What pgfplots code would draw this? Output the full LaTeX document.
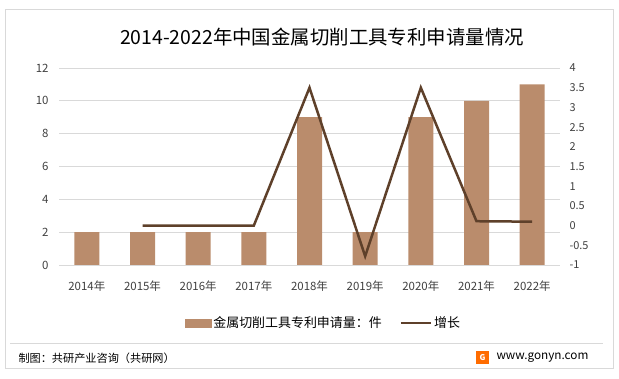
\documentclass[border=0pt]{standalone}
\usepackage{fontspec}
\setmainfont{Noto Sans CJK SC}
\usepackage{pgfplots}
\pgfplotsset{compat=1.18}
\definecolor{barc}{RGB}{186,140,108}
\definecolor{linec}{RGB}{94,64,42}
\definecolor{gridc}{RGB}{217,217,217}
\definecolor{txt}{RGB}{64,64,64}
\begin{document}
\begin{tikzpicture}
\path[use as bounding box] (0bp,0bp) rectangle (619bp,379bp);
\draw[gridc, line width=1bp] (5bp,10bp) rectangle (613bp,369bp);
\node[anchor=center] at (322bp,342bp) {\fontsize{19.5}{22}\selectfont 2014-2022年中国金属切削工具专利申请量情况};
\draw[gridc, line width=0.8bp] (10bp,36bp) -- (603bp,36bp);
\node[anchor=west, text=black] at (15bp,21bp) {\fontsize{11.2}{13}\selectfont 制图：共研产业咨询（共研网）};
\fill[orange!85!red] (476bp,15bp) rectangle (489bp,28bp);
\node[text=white, font=\bfseries\fontsize{8}{9}\selectfont] at (482.5bp,21.5bp) {G};
\node[anchor=west, text=black] at (493bp,21bp) {\fontsize{11.8}{13}\selectfont www.gonyn.com};
\begin{axis}[
  at={(59bp,114bp)}, anchor=south west,
  scale only axis, width=501bp, height=197bp,
  xmin=-0.5, xmax=8.5, ymin=0, ymax=12,
  ytick={0,2,...,12},
  ymajorgrids, grid style={gridc, line width=0.8bp},
  axis line style={draw=none}, tick style={draw=none},
  xtick={0,...,8},
  xticklabels={2014年,2015年,2016年,2017年,2018年,2019年,2020年,2021年,2022年},
  tick label style={font=\fontsize{11.5}{13}\selectfont, text=txt},
  /pgf/number format/assume math mode=true,
  yticklabel style={xshift=-7bp},
  xticklabel style={yshift=-8bp},
  ybar, bar width=25bp,
  clip=false,
]
\addplot[fill=barc, draw=none] coordinates {(0,2) (1,2) (2,2) (3,2) (4,9) (5,2) (6,9) (7,10) (8,11)};
\draw[gridc, line width=0.8bp] (axis cs:-0.5,0) -- (axis cs:8.5,0);
\end{axis}
\begin{axis}[
  at={(59bp,114bp)}, anchor=south west,
  scale only axis, width=501bp, height=197bp,
  xmin=-0.5, xmax=8.5, ymin=-1, ymax=4,
  ytick={-1,-0.5,...,4},
  axis y line*=right, axis x line=none,
  axis line style={draw=none}, tick style={draw=none},
  tick label style={font=\fontsize{11}{13}\selectfont, text=txt},
  /pgf/number format/assume math mode=true,
  yticklabel style={anchor=west, xshift=6bp},
  legend style={at={(0.528,-0.294)}, anchor=center, draw=none, fill=none,
    legend columns=2, font=\fontsize{13}{15}\selectfont,
    /tikz/every even column/.append style={column sep=16bp}},
  legend cell align=left,
  legend image code/.code={},
]
\addlegendimage{legend image code/.code={\fill[barc] (-2bp,-4bp) rectangle (24bp,4bp);}}
\addlegendentry{金属切削工具专利申请量：件}
\addplot[linec, line width=2.5bp, mark=none, legend image code/.code={\draw[linec, line width=2.5bp] (-4bp,0bp) -- (26bp,0bp);}] coordinates {(1,0) (2,0) (3,0) (4,3.5) (5,-0.778) (6,3.5) (7,0.111) (8,0.1)};
\addlegendentry{增长}
\end{axis}
\end{tikzpicture}
\end{document}
